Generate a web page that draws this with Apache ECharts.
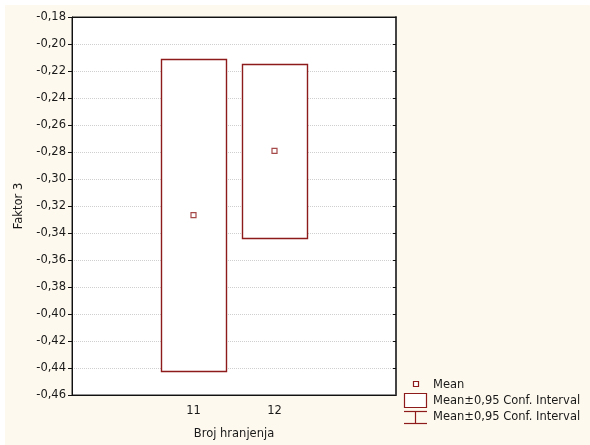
<!DOCTYPE html>
<html>
<head>
<meta charset="utf-8">
<script src="https://cdn.jsdelivr.net/npm/echarts@6/dist/echarts.min.js"></script>
<style>
  html, body { margin: 0; padding: 0; background: #ffffff; }
  #chart { width: 590px; height: 445px; }
</style>
</head>
<body>
<div id="chart"></div>
<script>
// Category slots along the x axis (empty slots pad each side)
const categories = ['', '11', '12', ''];
// Group means of Faktor 3
const meanValues = ['-', -0.3267, -0.2792, '-'];
// 95% confidence interval bounds
const ciUpper = ['-', -0.2111, -0.2150, '-'];
const ciLower = ['-', -0.4420, -0.3437, '-'];
// Y axis range and step
const yMin = -0.46;
const yMax = -0.18;
const yStep = 0.02;

const RED = '#8e1b1b';
const TXT = '#1a1a1a';
const FONT = '"DejaVu Sans", sans-serif';
const FS = 11.5;

const boxData = categories.map((c, i) => [i, ciUpper[i], ciLower[i]])
  .filter(d => d[1] !== '-');

const fmt = v => v.toFixed(2).replace('.', ',');

const chart = echarts.init(document.getElementById('chart'), null, { renderer: 'canvas' });

chart.setOption({
  animation: false,
  backgroundColor: '#ffffff',
  textStyle: { fontFamily: FONT },
  graphic: [
    { type: 'rect', z: -100, silent: true,
      shape: { x: 5, y: 5, width: 585, height: 440 },
      style: { fill: '#fef9ee' } },
    // legend
    { type: 'rect', shape: { x: 413.5, y: 381.5, width: 5, height: 5 },
      style: { fill: '#ffffff', stroke: RED, lineWidth: 1.2 } },
    { type: 'text', x: 433, y: 385,
      style: { text: 'Mean', font: FS + 'px ' + FONT, fill: TXT, verticalAlign: 'middle' } },
    { type: 'rect', shape: { x: 404.5, y: 393.5, width: 22, height: 14 },
      style: { fill: '#ffffff', stroke: RED, lineWidth: 1.2 } },
    { type: 'text', x: 433, y: 401,
      style: { text: 'Mean±0,95 Conf. Interval', font: FS + 'px ' + FONT, fill: TXT, verticalAlign: 'middle' } },
    { type: 'polyline', shape: { points: [[404, 411.5], [427, 411.5]] },
      style: { stroke: RED, lineWidth: 1.2 } },
    { type: 'polyline', shape: { points: [[404, 423.5], [427, 423.5]] },
      style: { stroke: RED, lineWidth: 1.2 } },
    { type: 'polyline', shape: { points: [[415.5, 411.5], [415.5, 423.5]] },
      style: { stroke: RED, lineWidth: 1.2 } },
    { type: 'text', x: 433, y: 417,
      style: { text: 'Mean±0,95 Conf. Interval', font: FS + 'px ' + FONT, fill: TXT, verticalAlign: 'middle' } }
  ],
  grid: {
    left: 72, top: 17, right: 194, bottom: 50,
    show: true, backgroundColor: '#ffffff', borderColor: '#222', borderWidth: 1
  },
  xAxis: [
    {
      type: 'category', data: categories, boundaryGap: true,
      name: 'Broj hranjenja', nameLocation: 'middle', nameGap: 33,
      nameTextStyle: { fontSize: FS, color: TXT, fontFamily: FONT },
      axisLine: { lineStyle: { color: '#111', width: 1 } },
      axisTick: { inside: true, alignWithLabel: true, length: 3, interval: 0, lineStyle: { color: '#111' } },
      axisLabel: { fontSize: FS, color: TXT, margin: 10, interval: 0, fontFamily: FONT },
      splitLine: { show: false }
    },
    {
      type: 'category', data: categories, boundaryGap: true, position: 'top',
      axisLine: { lineStyle: { color: '#111', width: 1 } },
      axisTick: { inside: true, alignWithLabel: true, length: 3, interval: 0, lineStyle: { color: '#111' } },
      axisLabel: { show: false },
      splitLine: { show: false }
    }
  ],
  yAxis: [
    {
      type: 'value', min: yMin, max: yMax, interval: yStep,
      name: 'Faktor 3', nameLocation: 'middle', nameGap: 47,
      nameTextStyle: { fontSize: FS, color: TXT, fontFamily: FONT },
      axisLine: { show: true, lineStyle: { color: '#111', width: 1 } },
      axisTick: { show: true, inside: false, length: 4, lineStyle: { color: '#111' } },
      axisLabel: { fontSize: FS, color: TXT, margin: 6, formatter: fmt, fontFamily: FONT },
      splitLine: { show: true, lineStyle: { color: '#cfcfcf', type: [1, 1], width: 1 } }
    },
    {
      type: 'value', min: yMin, max: yMax, interval: yStep, position: 'right',
      axisLine: { show: true, lineStyle: { color: '#444', width: 2 } },
      axisTick: { show: true, inside: true, length: 3, lineStyle: { color: '#111' } },
      axisLabel: { show: false },
      splitLine: { show: false }
    }
  ],
  series: [
    {
      name: 'Mean±0,95 Conf. Interval',
      type: 'custom',
      xAxisIndex: 0, yAxisIndex: 0,
      data: boxData,
      renderItem: function (params, api) {
        const top = api.coord([api.value(0), api.value(1)]);
        const bot = api.coord([api.value(0), api.value(2)]);
        const w = api.size([1, 0])[0] * 0.8;
        return {
          type: 'rect',
          shape: { x: Math.round(top[0] - w / 2) + 0.5, y: Math.round(top[1]) + 0.5,
                   width: Math.round(w), height: Math.round(bot[1] - top[1]) },
          style: { fill: '#ffffff', stroke: RED, lineWidth: 1.4 }
        };
      },
      z: 2
    },
    {
      name: 'Mean',
      type: 'scatter',
      xAxisIndex: 0, yAxisIndex: 0,
      data: meanValues,
      symbol: 'rect', symbolSize: 5,
      itemStyle: { color: '#ffffff', borderColor: RED, borderWidth: 1.2 },
      z: 3
    }
  ]
});
</script>
</body>
</html>
